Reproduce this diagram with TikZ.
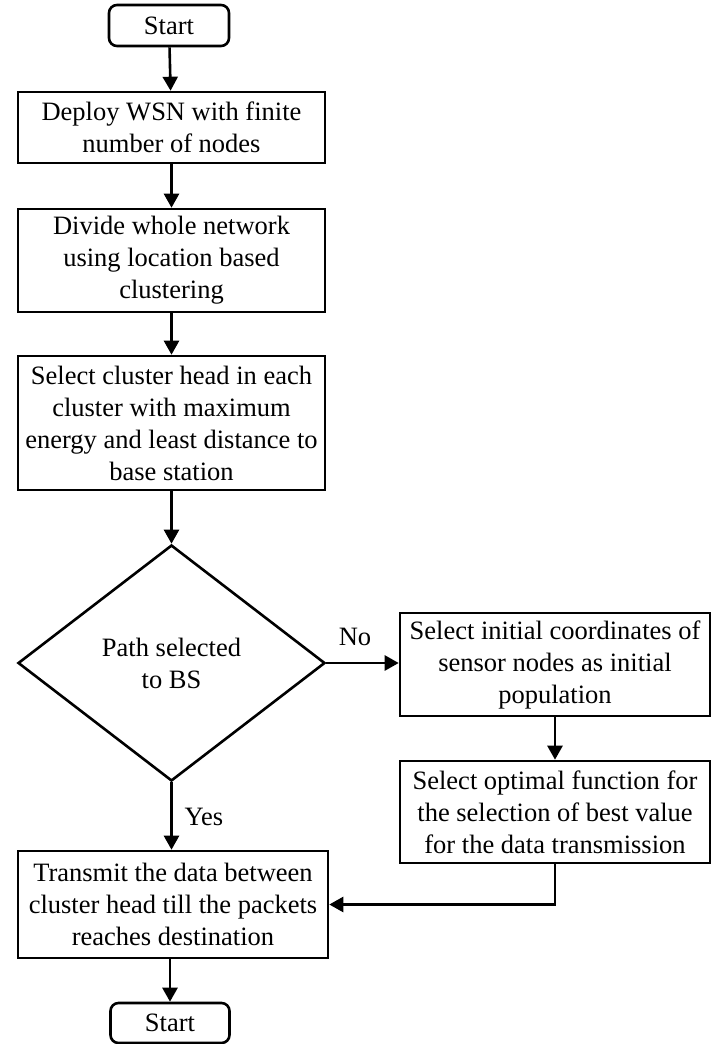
\documentclass[tikz,border=0pt]{standalone}
\usepackage{fontspec}
\setmainfont{Liberation Serif}
\usetikzlibrary{shapes.geometric,arrows.meta}
\begin{document}
\begin{tikzpicture}[x=1pt,y=-1pt,
  every node/.style={font=\fontsize{26.5}{32}\selectfont},
  box/.style={draw,line width=2.6pt,inner sep=0pt,align=center},
  term/.style={box,rounded corners=8pt},
  dec/.style={draw,line width=2.6pt,diamond,inner sep=0pt,align=center},
  arr/.style={line width=2.6pt,-{Triangle[length=14pt,width=15pt]}},
  lbl/.style={inner sep=0pt}]
\useasboundingbox (0,0) rectangle (713,1044);
\node[term,minimum width=120pt,minimum height=41pt] (start) at (169,25.5) {Start};
\node[box,minimum width=307pt,minimum height=71pt] (b1) at (171.5,127.5) {Deploy WSN with finite\\number of nodes};
\node[box,minimum width=307pt,minimum height=103pt] (b2) at (171.5,260.5) {Divide whole network\\using location based\\clustering};
\node[box,minimum width=307pt,minimum height=134pt] (b3) at (171.5,423) {Select cluster head in each\\cluster with maximum\\energy and least distance to\\base station};
\node[dec,minimum width=307pt,minimum height=236pt] (d) at (171.5,663) {Path selected\\to BS};
\node[box,minimum width=310pt,minimum height=103pt] (r1) at (555,664.5) {Select initial coordinates of\\sensor nodes as initial\\population};
\node[box,minimum width=310pt,minimum height=102pt] (r2) at (555,812) {Select optimal function for\\the selection of best value\\for the data transmission};
\node[box,minimum width=310pt,minimum height=107pt] (b5) at (173,904.5) {Transmit the data between\\cluster head till the packets\\reaches destination};
\node[term,minimum width=119pt,minimum height=40pt] (end) at (170,1023) {Start};
\node[lbl] (no) at (355,637) {No};
\node[lbl] (yes) at (204,817) {Yes};
\draw[arr] (start) -- (b1);
\draw[arr] (b1) -- (b2);
\draw[arr] (b2) -- (b3);
\draw[arr] (b3) -- (d);
\draw[arr] (d.east) -- (r1.west |- d.east);
\draw[arr] (r1) -- (r2);
\draw[arr] (r2.south) |- (b5.east);
\draw[arr] (d.south) -- (d.south |- b5.north);
\draw[arr] (b5.south -| end.north) -- (end.north);
\end{tikzpicture}
\end{document}
